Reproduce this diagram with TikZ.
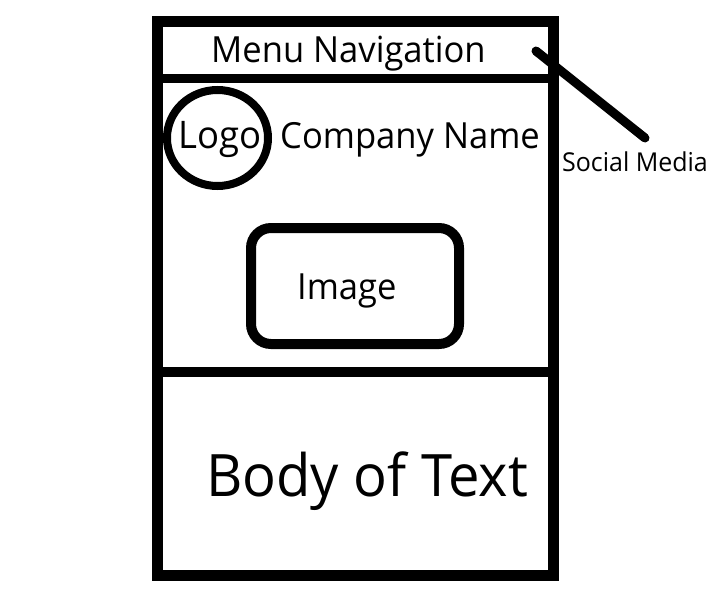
\documentclass[tikz,border=0pt]{standalone}
\usepackage{fontspec}
\setmainfont[FakeStretch=0.96]{Open Sans}
\usetikzlibrary{shapes.geometric}
\begin{document}
\begin{tikzpicture}[x=1pt,y=-1pt,
  lbl/.style={inner sep=0pt, anchor=base west, text=black},
  ]
\useasboundingbox (0,0) rectangle (710,599);
\fill[white] (0,0) rectangle (710,599);
% outer frame
\draw[line width=11pt] (157,21.5) rectangle (553.5,575.5);
% separators
\draw[line width=9pt] (157,78.5) -- (553.5,78.5);
\draw[line width=10pt] (157,372) -- (553.5,372);
% texts
\node[lbl, font=\fontsize{36}{40}\selectfont] (menu) at (211,63) {Menu Navigation};
\node[lbl, font=\fontsize{36}{40}\selectfont] (company) at (280,149) {Company Name};
\node[ellipse, draw, line width=8pt, minimum width=101pt, minimum height=96pt, inner sep=0pt] (logoc) at (217.5,138) {};
\node[lbl, font=\fontsize{38}{40}\selectfont] (logo) at (178,149) {Logo};
\node[draw, line width=10pt, rounded corners=20pt, minimum width=208pt, minimum height=116pt] (imgbox) at (355,286) {};
\node[lbl, font=\fontsize{36}{40}\selectfont] (image) at (297,299) {Image};
\node[lbl, font=\fontsize{58.5}{64}\selectfont] (body) at (206,496) {Body of Text};
\node[lbl, font=\fontsize{26}{30}\selectfont] (social) at (562,172) {Social Media};
\coordinate (smA) at (536,51);
\coordinate (smB) at (645,138);
\draw[line width=9pt, line cap=round] (smA) -- (smB);
\end{tikzpicture}
\end{document}
